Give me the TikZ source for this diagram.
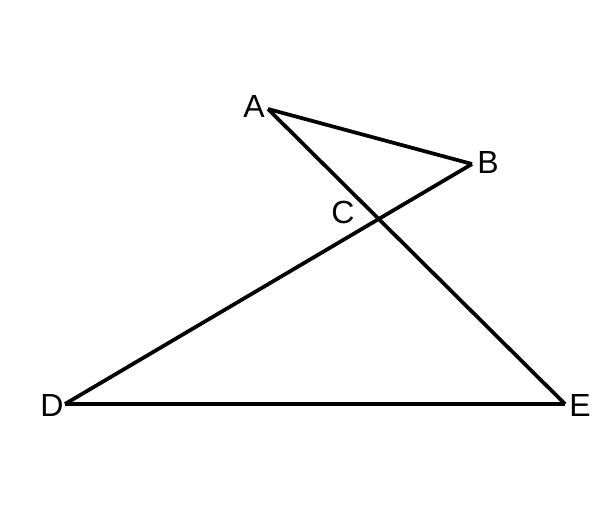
\documentclass[tikz,border=0pt]{standalone}
\usepackage{fontspec}
\setmainfont{Liberation Sans}
\usepackage{tikz}
\usetikzlibrary{positioning}

\begin{document}
\begin{tikzpicture}[x=0.75pt,y=-0.75pt,line width=2.8pt,line join=miter]
	\tikzstyle{vertex}=[inner sep=0pt,font=\fontsize{24}{28}\selectfont]
	\tikzstyle{side}=[draw=black]

	\useasboundingbox (0,0) rectangle (610,517);

	\coordinate (A) at (268, 109);
	\coordinate (B) at (472, 164);
	\coordinate (D) at (65, 404);
	\coordinate (E) at (565, 404);
	\coordinate (C) at (intersection of A--E and B--D);

	\node[vertex] (labelA) at (254, 106) {A};
	\node[vertex] (labelB) at (488, 162) {B};
	\node[vertex] (labelC) at (343, 212) {C};
	\node[vertex] (labelD) at (52, 405) {D};
	\node[vertex] (labelE) at (580, 405) {E};

	\draw[side] (A) -- (B);
	\draw[side] (B) -- (D);
	\draw[side] (D) -- (E);
	\draw[side] (E) -- (A);
\end{tikzpicture}
\end{document}
